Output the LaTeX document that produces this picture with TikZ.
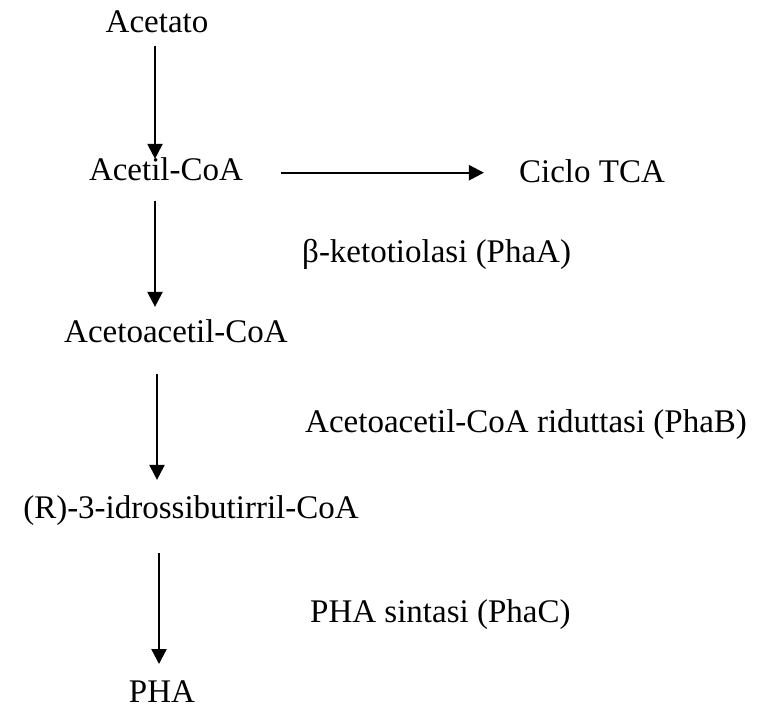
\documentclass[tikz,border=0pt]{standalone}
\usepackage{fontspec}
\setmainfont{Liberation Serif}
\usetikzlibrary{arrows.meta, calc}

\begin{document}
\begin{tikzpicture}[x=1pt, y=-1pt, font=\fontsize{33}{40}\selectfont,
    met/.style={inner sep=0pt, anchor=base},
    enz/.style={inner sep=0pt, anchor=base west},
    flow/.style={-{Triangle[length=15pt,width=15pt]}, line width=2.2pt}]
    \useasboundingbox (0,0) rectangle (763,708);
    % metaboliti
    \node[met] (acetato) at (157,33) {Acetato};
    \node[met] (acetil) at (166,181) {Acetil-CoA};
    \node[met] (tca) at (592,183) {Ciclo TCA};
    \node[met] (acac) at (176,343) {Acetoacetil-CoA};
    \node[met] (idr) at (191,518) {(R)-3-idrossibutirril-CoA};
    \node[met] (pha) at (162,702) {PHA};
    % enzimi
    \node[enz] (phaA) at (302,263) {β-ketotiolasi (PhaA)};
    \node[enz] (phaB) at (305,432) {Acetoacetil-CoA riduttasi (PhaB)};
    \node[enz] (phaC) at (310,622) {PHA sintasi (PhaC)};
    % frecce
    \draw[flow] ($(acetato.south)+(-2,12)$) -- ($(acetil.north)+(-11,1)$);
    \draw[flow] ($(acetil.south)+(-11,19)$) -- ($(acac.north)+(-21,-13)$);
    \draw[flow] ($(acac.south)+(-19,30)$) -- ($(idr.north)+(-34,-15)$);
    \draw[flow] ($(idr.south)+(-32,28)$) -- ($(pha.north)+(-3,-16)$);
    \draw[flow] ($(acetil.east)+(38,3)$) -- ($(acetil.east -| tca.west)+(-35,3)$);
\end{tikzpicture}
\end{document}
